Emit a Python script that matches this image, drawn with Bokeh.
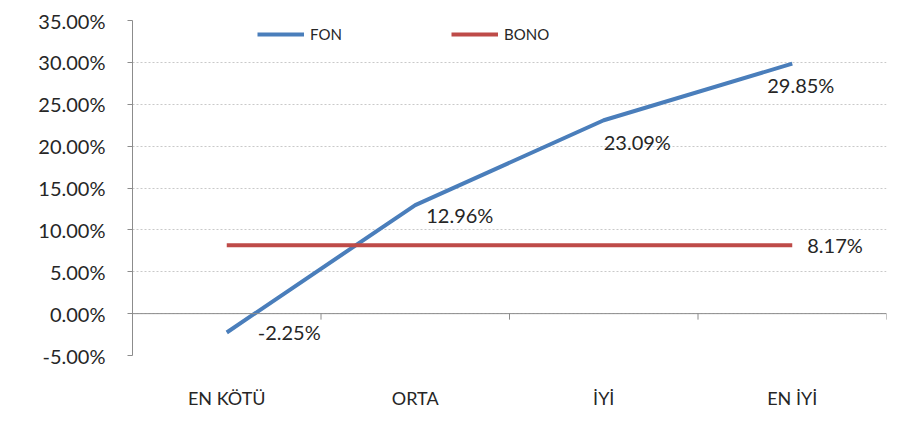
from bokeh.plotting import figure
from bokeh.models import (ColumnDataSource, Range1d, FixedTicker, NumeralTickFormatter,
                          Span, Legend, LegendItem)
from bokeh.embed import file_html
from bokeh.resources import INLINE
from bokeh.core.properties import value

# ---- data ----
categories = ["EN KÖTÜ", "ORTA", "İYİ", "EN İYİ"]
fon = [-0.0225, 0.1296, 0.2309, 0.2985]
bono = [0.0817, 0.0817, 0.0817, 0.0817]
y_ticks = [-0.05, 0.0, 0.05, 0.10, 0.15, 0.20, 0.25, 0.30, 0.35]

# label offsets (style, pixels)
fon_dx = [31, 11, 0, -25]
fon_dy = [0, 10, 22, 21]

FONT = "Lato"
TXT = "#262626"
BLUE = "#4A7EBB"
RED = "#BE4B48"

n = len(categories)
xs = [i + 0.5 for i in range(n)]

p = figure(width=888, height=431, output_backend="svg", toolbar_location=None,
           x_range=Range1d(0, n), y_range=Range1d(y_ticks[0], y_ticks[-1]),
           min_border_left=132, min_border_right=2, min_border_top=20, min_border_bottom=76)
p.outline_line_color = None
p.background_fill_color = "white"
p.border_fill_color = "white"

# y axis
p.yaxis.ticker = FixedTicker(ticks=y_ticks)
p.yaxis.formatter = NumeralTickFormatter(format="0.00%")
p.yaxis.axis_line_color = "#8c8c8c"
p.yaxis.major_tick_line_color = "#8c8c8c"
p.yaxis.major_tick_out = 5
p.yaxis.major_tick_in = 0
p.yaxis.minor_tick_line_color = None
p.yaxis.major_label_standoff = 22
p.yaxis.major_label_text_font = FONT
p.yaxis.major_label_text_font_size = "20px"
p.yaxis.major_label_text_color = TXT

# x axis (category labels, low position)
p.xaxis.ticker = FixedTicker(ticks=xs)
p.xaxis.major_label_overrides = {x: c for x, c in zip(xs, categories)}
p.xaxis.axis_line_color = None
p.xaxis.major_tick_line_color = None
p.xaxis.minor_tick_line_color = None
p.xaxis.major_tick_out = 0
p.xaxis.major_label_standoff = 31
p.xaxis.major_label_text_font = FONT
p.xaxis.major_label_text_font_size = "18px"
p.xaxis.major_label_text_color = TXT

# grid
p.xgrid.grid_line_color = None
p.ygrid.ticker = FixedTicker(ticks=y_ticks)
p.ygrid.grid_line_color = "#c9c9c9"
p.ygrid.grid_line_dash = "2 2"

# horizontal axis line at zero with boundary ticks
p.add_layout(Span(location=0, dimension="width", line_color="#8c8c8c", line_width=1))
scale = (y_ticks[-1] - y_ticks[0]) / 335.0
tick_len = 6 * scale
bx = list(range(n + 1))
p.segment(x0=bx, y0=[0] * len(bx), x1=bx, y1=[-tick_len] * len(bx),
          line_color="#8c8c8c", line_width=1)

# series
fon_r = p.line(xs, fon, line_color=BLUE, line_width=4)
bono_r = p.line(xs, bono, line_color=RED, line_width=4)

# labels
src = ColumnDataSource(dict(x=xs, y=fon, t=[f"{v*100:.2f}%" for v in fon], dx=fon_dx, dy=fon_dy))
p.text(x="x", y="y", text="t", x_offset="dx", y_offset="dy", source=src,
       text_align="left", text_baseline="middle", text_font=value(FONT),
       text_font_size="20px", text_color=TXT)
p.text(x=[xs[-1]], y=[bono[-1]], text=[f"{bono[-1]*100:.2f}%"], x_offset=15, y_offset=0,
       text_align="left", text_baseline="middle", text_font=value(FONT),
       text_font_size="20px", text_color=TXT)

# legends
for r, lab, loc in [(fon_r, "FON", (125, 312)), (bono_r, "BONO", (319, 312))]:
    lg = Legend(items=[LegendItem(label=lab, renderers=[r])], location=loc,
                glyph_width=47, glyph_height=14, label_standoff=6, padding=0, margin=0,
                border_line_color=None, background_fill_alpha=0,
                label_text_font=FONT, label_text_font_size="15px", label_text_color=TXT)
    p.add_layout(lg)

open("out.html", "w").write(file_html(p, INLINE))
